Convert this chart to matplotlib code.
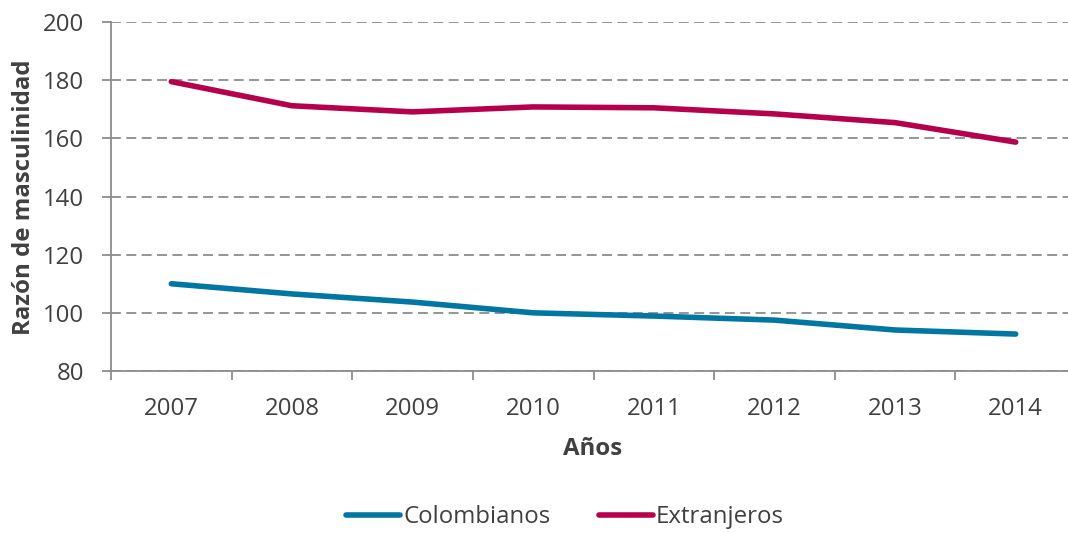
import matplotlib
matplotlib.use("Agg")
import matplotlib.pyplot as plt
from matplotlib.lines import Line2D

years = ["2007", "2008", "2009", "2010", "2011", "2012", "2013", "2014"]
colombianos = [110.0, 106.5, 103.7, 100.0, 98.9, 97.5, 94.1, 92.7]
extranjeros = [179.5, 171.2, 169.1, 170.8, 170.5, 168.4, 165.4, 158.7]

plt.rcParams['font.family'] = ['Open Sans', 'DejaVu Sans']
txt = '#404040'
fs = 17.3
W, H = 1068, 533
fig = plt.figure(figsize=(W/100, H/100), dpi=100)
axw, axh = 1076-111, 371-22
ax = fig.add_axes([111/W, 1-371/H, axw/W, axh/H])

x = list(range(len(years)))
c1, c2 = '#0076A3', '#B5004B'
ax.plot(x, colombianos, color=c1, lw=4, solid_capstyle='round', label='Colombianos')
ax.plot(x, extranjeros, color=c2, lw=4, solid_capstyle='round', label='Extranjeros')

ax.set_xlim(-0.5, len(years)-0.5)
ax.set_ylim(80, 200)
ax.set_yticks(range(80, 201, 20))
ax.yaxis.grid(True, linestyle=(0, (5.5, 3)), color='#8C8C8C', lw=1.3)
ax.set_axisbelow(True)
ax.set_xticks(x)
ax.set_xticklabels(years)
ax.set_xticks([i-0.5 for i in range(len(years)+1)], minor=True)
ax.tick_params(axis='x', which='major', length=0, pad=19, labelsize=fs, labelcolor=txt)
ax.tick_params(axis='x', which='minor', length=6.5, color='#8C8C8C', width=1.3)
ax.tick_params(axis='y', length=6.5, color='#8C8C8C', width=1.3, labelsize=fs, labelcolor=txt, pad=13)
for s in ['top', 'right']:
    ax.spines[s].set_visible(False)
for s in ['left', 'bottom']:
    ax.spines[s].set_color('#8C8C8C')
    ax.spines[s].set_linewidth(1.3)

ax.set_xlabel('Años', fontsize=fs, fontweight='bold', color=txt)
ax.set_ylabel('Razón de masculinidad', fontsize=fs, fontweight='bold', color=txt)
ax.xaxis.set_label_coords((593-111)/axw, -(437-371)/axh)
ax.yaxis.set_label_coords(-(111-36)/axw, (371-197)/axh)

handles = [Line2D([], [], color=c1, lw=4, solid_capstyle='round'),
           Line2D([], [], color=c2, lw=4, solid_capstyle='round')]
fig.legend(handles, ['Colombianos', 'Extranjeros'], loc='center', bbox_to_anchor=(565/W, 1-517/H),
           ncol=2, frameon=False, fontsize=fs, handlelength=2.25, handletextpad=0.12,
           columnspacing=2.0, labelcolor=txt)

fig.savefig('out.png', dpi=100)
